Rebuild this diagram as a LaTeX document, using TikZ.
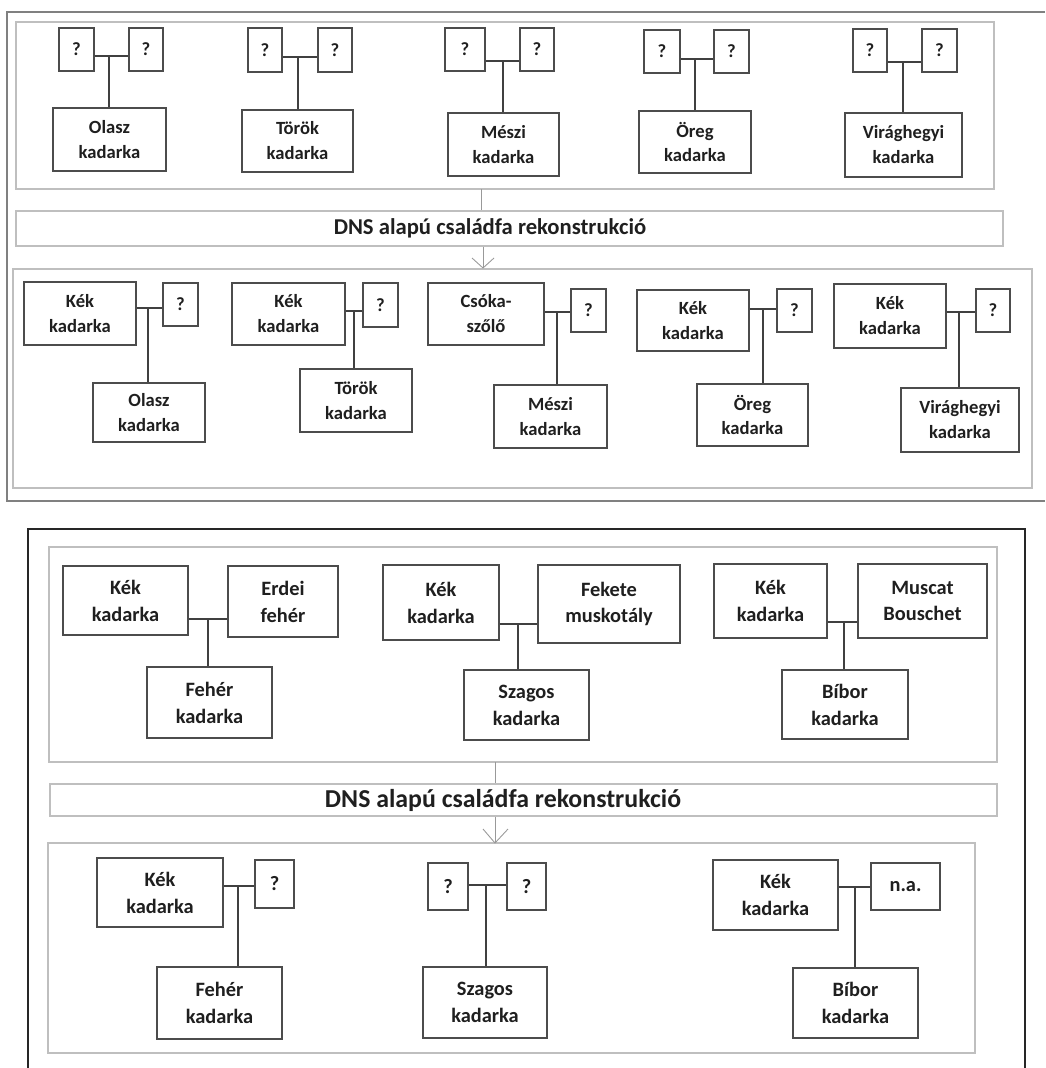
\documentclass[tikz,border=0pt]{standalone}
\usepackage{fontspec}
\setmainfont{Carlito}
% box from corner (x1,y1) to corner (x2,y2)
\newcommand\kbx[7]{%
  \pgfmathsetmacro\kbxw{(#5-#3)*0.02}%
  \pgfmathsetmacro\kbxh{(#6-#4)*0.02}%
  \node[kbox,#2,minimum width=\kbxw cm,minimum height=\kbxh cm] (#1) at ({(#3+#5)/2},{(#4+#6)/2}) {#7};}
% mating line at height y, with descent at x to the child
\newcommand\mating[6]{%
  \coordinate (#1) at (#5,#6);
  \draw[tie] (#1 -| #2.east) -- (#1 -| #3.west);
  \draw[tie] (#1) -- (#1 |- #4.north);}
\begin{document}
\begin{tikzpicture}[x=0.02cm,y=-0.02cm,
  kbox/.style={draw=black!70, line width=0.8pt, fill=white, inner sep=0pt, align=center, text=black!88},
  tie/.style={draw=black!75, line width=1.05pt},
  panel/.style={draw=black!25, line width=0.8pt},
  thin/.style={draw=black!40, line width=0.5pt},
  fa/.style={font=\fontsize{10.6}{14.2}\selectfont\bfseries},
  fb/.style={font=\fontsize{11.6}{15.3}\selectfont\bfseries}]
\useasboundingbox (0,0) rectangle (1045,1068);

% ---------------- first panel ----------------
\draw[draw=black!50, line width=0.6pt] (1045,12) -- (7,12) -- (7,501) -- (1045,501);
\draw[panel] (16,22) rectangle (994,189);
\node[panel, inner sep=0pt, minimum width=19.74cm, minimum height=0.7cm] (dns1) at (509.5,228.5) {};
\node[font=\fontsize{12.9}{15}\selectfont\bfseries, text=black!88, anchor=center] (dnstext1) at (490,228.5) {DNS alapú családfa rekonstrukció};
\draw[panel] (13,269) rectangle (1032,488);
\coordinate (up1) at (481,189);
\coordinate (dn1) at (483,268);
\draw[thin] (up1) -- (up1 |- dns1.north);
\draw[thin] (dn1 |- dns1.south) -- (dn1);
\draw[thin] (472,258) -- (dn1) -- (494,258);

% upper row: unknown parents
\kbx{a1l}{fa}{59}{28}{94}{71}{?}
\kbx{a1r}{fa}{129}{28}{163}{71}{?}
\kbx{a1c}{fa}{53}{108}{166}{171}{Olasz\\kadarka}
\mating{ja1}{a1l}{a1r}{a1c}{109}{56}

\kbx{a2l}{fa}{248}{28}{282}{72}{?}
\kbx{a2r}{fa}{318}{28}{352}{72}{?}
\kbx{a2c}{fa}{242}{110}{353}{172}{Török\\kadarka}
\mating{ja2}{a2l}{a2r}{a2c}{298}{57}

\kbx{a3l}{fa}{445}{28}{485}{71}{?}
\kbx{a3r}{fa}{520}{28}{554}{71}{?}
\kbx{a3c}{fa}{448}{113}{559}{176}{Mészi\\kadarka}
\mating{ja3}{a3l}{a3r}{a3c}{503}{61}

\kbx{a4l}{fa}{644}{30}{680}{73}{?}
\kbx{a4r}{fa}{714}{30}{749}{73}{?}
\kbx{a4c}{fa}{639}{111}{751}{173}{Öreg\\kadarka}
\mating{ja4}{a4l}{a4r}{a4c}{695}{59}

\kbx{a5l}{fa}{853}{29}{887}{72}{?}
\kbx{a5r}{fa}{922}{29}{957}{72}{?}
\kbx{a5c}{fa}{845}{113}{962}{177}{Virághegyi\\kadarka}
\mating{ja5}{a5l}{a5r}{a5c}{903}{62}

% lower row: reconstructed parents
\kbx{b1l}{fa}{24}{282}{136}{345}{Kék\\kadarka}
\kbx{b1r}{fa}{163}{283}{198}{326}{?}
\kbx{b1c}{fa}{93}{383}{205}{442}{Olasz\\kadarka}
\mating{jb1}{b1l}{b1r}{b1c}{148}{308}

\kbx{b2l}{fa}{232}{283}{345}{345}{Kék\\kadarka}
\kbx{b2r}{fa}{363}{283}{398}{327}{?}
\kbx{b2c}{fa}{300}{369}{412}{432}{Török\\kadarka}
\mating{jb2}{b2l}{b2r}{b2c}{354}{311}

\kbx{b3l}{fa}{428}{283}{544}{345}{Csóka-\\szőlő}
\kbx{b3r}{fa}{571}{289}{606}{332}{?}
\kbx{b3c}{fa}{494}{385}{607}{448}{Mészi\\kadarka}
\mating{jb3}{b3l}{b3r}{b3c}{557}{312}

\kbx{b4l}{fa}{637}{290}{749}{351}{Kék\\kadarka}
\kbx{b4r}{fa}{777}{289}{812}{332}{?}
\kbx{b4c}{fa}{697}{384}{808}{446}{Öreg\\kadarka}
\mating{jb4}{b4l}{b4r}{b4c}{763}{309}

\kbx{b5l}{fa}{834}{284}{946}{348}{Kék\\kadarka}
\kbx{b5r}{fa}{976}{289}{1010}{332}{?}
\kbx{b5c}{fa}{901}{388}{1019}{452}{Virághegyi\\kadarka}
\mating{jb5}{b5l}{b5r}{b5c}{959}{312}

% ---------------- second panel ----------------
\draw[draw=black!85, line width=1pt] (28,1068) -- (28,529) -- (1025,529) -- (1025,1068);
\draw[panel] (49,547) rectangle (997,762);
\node[panel, inner sep=0pt, minimum width=18.94cm, minimum height=0.64cm] (dns2) at (523.5,800) {};
\node[font=\fontsize{14.7}{17}\selectfont\bfseries, text=black!88, anchor=center] (dnstext2) at (503,800) {DNS alapú családfa rekonstrukció};
\draw[panel] (48,843) rectangle (975,1053);
\coordinate (up2) at (495,762);
\coordinate (dn2) at (495,843);
\draw[thin] (up2) -- (up2 |- dns2.north);
\draw[thin] (dn2 |- dns2.south) -- (dn2);
\draw[thin] (483,829) -- (dn2) -- (508,829);

% upper row: known parents
\kbx{c1l}{fb}{63}{566}{188}{635}{Kék\\kadarka}
\kbx{c1r}{fb}{228}{566}{338}{637}{Erdei\\fehér}
\kbx{c1c}{fb}{147}{667}{272}{738}{Fehér\\kadarka}
\mating{jc1}{c1l}{c1r}{c1c}{208}{619}

\kbx{c2l}{fb}{383}{565}{499}{640}{Kék\\kadarka}
\kbx{c2r}{fb}{538}{565}{680}{643}{Fekete\\muskotály}
\kbx{c2c}{fb}{464}{670}{589}{740}{Szagos\\kadarka}
\mating{jc2}{c2l}{c2r}{c2c}{518}{624}

\kbx{c3l}{fb}{714}{564}{827}{638}{Kék\\kadarka}
\kbx{c3r}{fb}{858}{564}{987}{638}{Muscat\\Bouschet}
\kbx{c3c}{fb}{782}{670}{908}{739}{Bíbor\\kadarka}
\mating{jc3}{c3l}{c3r}{c3c}{844}{622}

% lower row: reconstructed parents
\kbx{d1l}{fb}{97}{858}{223}{927}{Kék\\kadarka}
\kbx{d1r}{fb}{255}{860}{294}{908}{?}
\kbx{d1c}{fb}{157}{967}{282}{1039}{Fehér\\kadarka}
\mating{jd1}{d1l}{d1r}{d1c}{238}{886}

\kbx{d2l}{fb}{428}{863}{468}{910}{?}
\kbx{d2r}{fb}{507}{863}{546}{910}{?}
\kbx{d2c}{fb}{423}{967}{547}{1038}{Szagos\\kadarka}
\mating{jd2}{d2l}{d2r}{d2c}{486}{885}

\kbx{d3l}{fb}{713}{860}{838}{930}{Kék\\kadarka}
\kbx{d3r}{fb}{871}{863}{940}{910}{n.a.}
\kbx{d3c}{fb}{793}{968}{918}{1038}{Bíbor\\kadarka}
\mating{jd3}{d3l}{d3r}{d3c}{855}{887}
\end{tikzpicture}
\end{document}
